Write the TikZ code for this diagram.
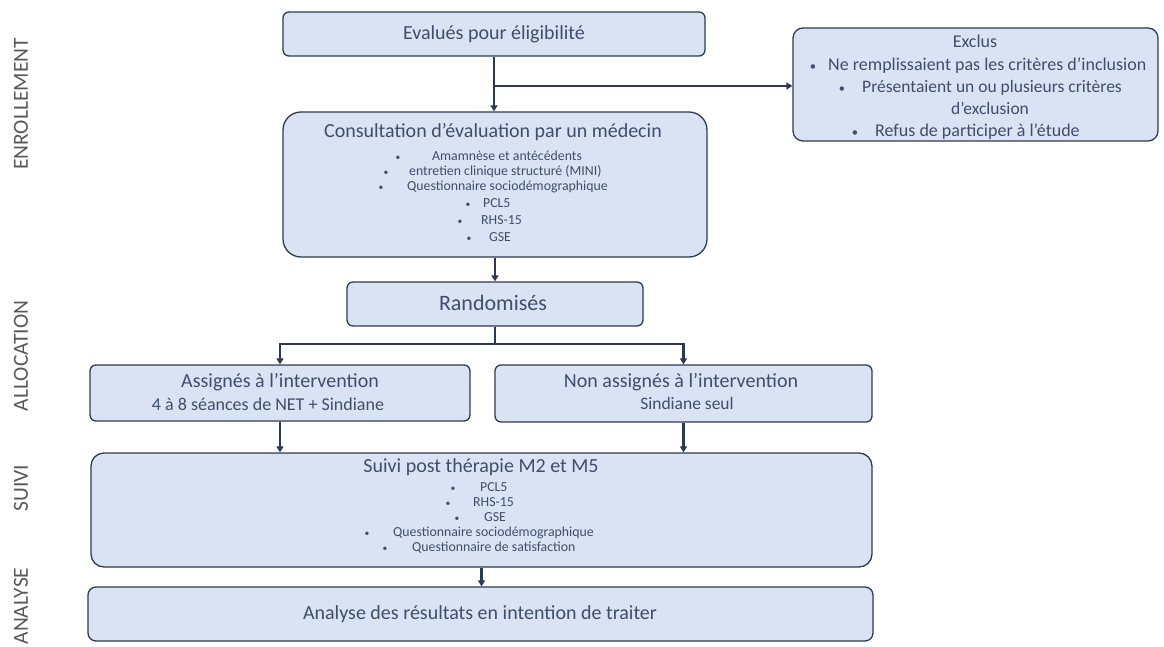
\documentclass[tikz,border=0pt]{standalone}
\usepackage{fontspec}
\setmainfont{Carlito}
\usetikzlibrary{arrows.meta}
\definecolor{boxfill}{HTML}{DAE3F3}
\definecolor{boxline}{HTML}{2F3B4F}
\definecolor{txt}{HTML}{3F4E69}
\definecolor{side}{HTML}{595959}
\definecolor{arr}{HTML}{2B3A52}
\newcommand\fs[1]{\fontsize{#1}{#1}\selectfont}
\newcommand\itm[6]{%
  \node[t,font=\fs{#5}] (#1b) at (#2,#4) {\scalebox{0.7}{•}};
  \node[t,anchor=mid west,font=\fs{#5}] (#1) at (#3,#4) {#6};}
\begin{document}
\begin{tikzpicture}[x=1pt,y=-1pt,
  box/.style={draw=boxline,fill=boxfill,line width=1.3pt,rounded corners=#1,inner sep=0pt},
  box/.default=6pt,
  t/.style={text=txt,inner sep=0pt,anchor=mid,yshift=-3pt},
  conn/.style={draw=arr,line width=2.2pt,-{Triangle[length=6pt,width=7pt]}},
  plain/.style={draw=arr,line width=2.2pt},
  lbl/.style={text=side,rotate=90,inner sep=0pt,font=\fs{21.5}}]
\useasboundingbox[fill=white] (0,0) rectangle (1164,647);

% side labels
\node[lbl] (l1) at (21,104) {ENROLLEMENT};
\node[lbl] (l2) at (21,356) {ALLOCATION};
\node[lbl] (l3) at (21,488) {SUIVI};
\node[lbl] (l4) at (21,606) {ANALYSE};

% boxes
\node[box, minimum width=422pt, minimum height=44pt] (eval) at (494,34) {};
\node[box=10pt, minimum width=365pt, minimum height=113pt] (excl) at (975.5,84.5) {};
\node[box=18pt, minimum width=424pt, minimum height=145pt] (cons) at (495,184.5) {};
\node[box, minimum width=296pt, minimum height=44pt] (rand) at (495,304) {};
\node[box, minimum width=380pt, minimum height=56pt] (assig) at (280,393) {};
\node[box, minimum width=377pt, minimum height=57pt] (nonas) at (683.5,393.5) {};
\node[box=13pt, minimum width=781pt, minimum height=114pt] (suivi) at (481.5,510) {};
\node[box=8pt, minimum width=785pt, minimum height=54pt] (analy) at (480.5,614) {};

% texts
\node[t,font=\fs{20}] (evalt) at (494,34) {Evalués pour éligibilité};

\node[t,font=\fs{18}] (exclt) at (975,42) {Exclus};
\itm{e1}{813}{828}{65}{18}{Ne remplissaient pas les critères d’inclusion}
\itm{e2}{842}{862}{87}{17.5}{Présentaient un ou plusieurs critères}
\node[t,font=\fs{17.5}] (e2b2) at (990,109) {d’exclusion};
\itm{e3}{855}{875}{131}{18}{Refus de participer à l’étude}

\node[t,font=\fs{20}] (const) at (493,132) {Consultation d’évaluation par un médecin};
\itm{c1}{398}{432}{155}{13.8}{Amamnèse et antécédents}
\itm{c2}{386}{409}{170}{13.8}{entretien clinique structuré (MINI)}
\itm{c3}{381}{407}{185}{13.8}{Questionnaire sociodémographique}
\itm{c4}{468}{483}{202}{13.8}{PCL5}
\itm{c5}{460}{481}{219}{13.8}{RHS-15}
\itm{c6}{469}{489}{236}{13.8}{GSE}

\node[t,font=\fs{22}] (randt) at (493,305) {Randomisés};

\node[t,font=\fs{20}] (assigt) at (280,382) {Assignés à l’intervention};
\node[t,font=\fs{18}] (assigs) at (268,405) {4 à 8 séances de NET + Sindiane};
\node[t,font=\fs{20}] (nonast) at (681,382) {Non assignés à l’intervention};
\node[t,font=\fs{17.5}] (nonass) at (687,404) {Sindiane seul};

\node[t,font=\fs{20}] (suivit) at (481,467) {Suivi post thérapie M2 et M5};
\itm{s1}{453}{480}{486}{13.8}{PCL5}
\itm{s2}{448}{473}{501}{13.8}{RHS-15}
\itm{s3}{457}{484}{516}{13.8}{GSE}
\itm{s4}{367}{393}{531}{13.8}{Questionnaire sociodémographique}
\itm{s5}{385}{412}{546}{13.8}{Questionnaire de satisfaction}

\node[t,font=\fs{20}] (analyt) at (480,614) {Analyse des résultats en intention de traiter};

% connectors
\coordinate (j1) at (eval.south |- 0,86);
\draw[conn] (eval.south) -- (eval.south |- cons.north);
\draw[conn] (j1) -- (j1 -| excl.west);
\draw[conn] (cons.south) -- (rand.north);
\coordinate (j2) at (rand.south |- 0,344);
\draw[plain] (rand.south) -- (j2);
\draw[conn] (j2) -| (assig.north);
\draw[conn] (j2) -| (nonas.north);
\draw[conn] (assig.south) -- (assig.south |- suivi.north);
\draw[conn] (nonas.south) -- (nonas.south |- suivi.north);
\draw[conn] (suivi.south) -- (suivi.south |- analy.north);
\end{tikzpicture}
\end{document}
